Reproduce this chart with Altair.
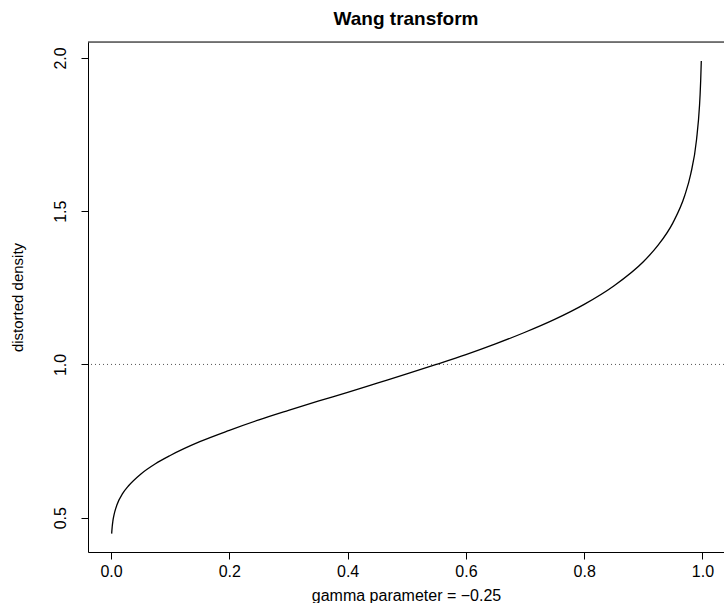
import altair as alt
import pandas as pd

# values
u_values = [0.001, 0.0015, 0.002, 0.003, 0.005, 0.01, 0.02, 0.03, 0.05, 0.075,
            0.1, 0.15, 0.2, 0.25, 0.3, 0.35, 0.4, 0.45, 0.5, 0.55, 0.6, 0.65,
            0.7, 0.75, 0.8, 0.85, 0.9, 0.925, 0.95, 0.97, 0.98, 0.99, 0.995,
            0.996, 0.997, 0.998]
density_values = [0.448, 0.461, 0.472, 0.488, 0.509, 0.542, 0.580, 0.605, 0.642, 0.676,
                  0.703, 0.748, 0.785, 0.819, 0.850, 0.880, 0.909, 0.939, 0.969, 1.000,
                  1.032, 1.067, 1.105, 1.147, 1.196, 1.256, 1.335, 1.389, 1.462, 1.551,
                  1.620, 1.734, 1.845, 1.881, 1.927, 1.990]
x_ticks = [0.0, 0.2, 0.4, 0.6, 0.8, 1.0]
y_ticks = [0.5, 1.0, 1.5, 2.0]
reference_level = 1.0

df = pd.DataFrame({"u": u_values, "density": density_values})

FONT = "Liberation Sans"

x_scale = alt.Scale(domain=[-0.039, 1.0364], nice=False, zero=False)
y_scale = alt.Scale(domain=[0.388, 2.052], nice=False, zero=False)

x_axis = alt.Axis(
    values=x_ticks, format=".1f", title="gamma parameter = \u22120.25",
    grid=False, domainColor="black", tickColor="black", tickSize=7,
    labelFont=FONT, labelFontSize=16, labelColor="black", labelPadding=4,
    titleFont=FONT, titleFontSize=16, titleFontWeight="normal", titleColor="black",
    titlePadding=8,
)
y_axis = alt.Axis(
    values=y_ticks, format=".1f", title="distorted density",
    grid=False, domainColor="black", tickColor="black", tickSize=7,
    labelFont=FONT, labelFontSize=16, labelColor="black", labelAngle=270,
    labelAlign="center", labelBaseline="bottom", labelPadding=13,
    titleFont=FONT, titleFontSize=15, titleFontWeight="normal", titleColor="black",
    titlePadding=27,
)

curve = alt.Chart(df).mark_line(color="black", strokeWidth=1.3, interpolate="monotone").encode(
    x=alt.X("u:Q", scale=x_scale, axis=x_axis),
    y=alt.Y("density:Q", scale=y_scale, axis=y_axis),
)

hline = alt.Chart(pd.DataFrame({"level": [reference_level]})).mark_rule(
    color="#555555", strokeDash=[1, 3], strokeWidth=1
).encode(y=alt.Y("level:Q", scale=y_scale))

top_border = alt.Chart().mark_rule(color="black", strokeWidth=1).encode(
    x=alt.value(0), x2=alt.value(636), y=alt.value(0)
)

chart = (
    alt.layer(hline, curve, top_border)
    .properties(
        width=636,
        height=510,
        title=alt.TitleParams(
            "Wang transform", font=FONT, fontSize=19, fontWeight="bold",
            color="black", anchor="middle", offset=13,
        ),
        autosize=alt.AutoSizeParams(type="none"),
        padding={"left": 88, "top": 42, "right": 0, "bottom": 51},
    )
    .configure_view(stroke=None)
    .configure(background="white")
)

chart.save("out.html", embed_options={"renderer": "svg", "actions": False})
